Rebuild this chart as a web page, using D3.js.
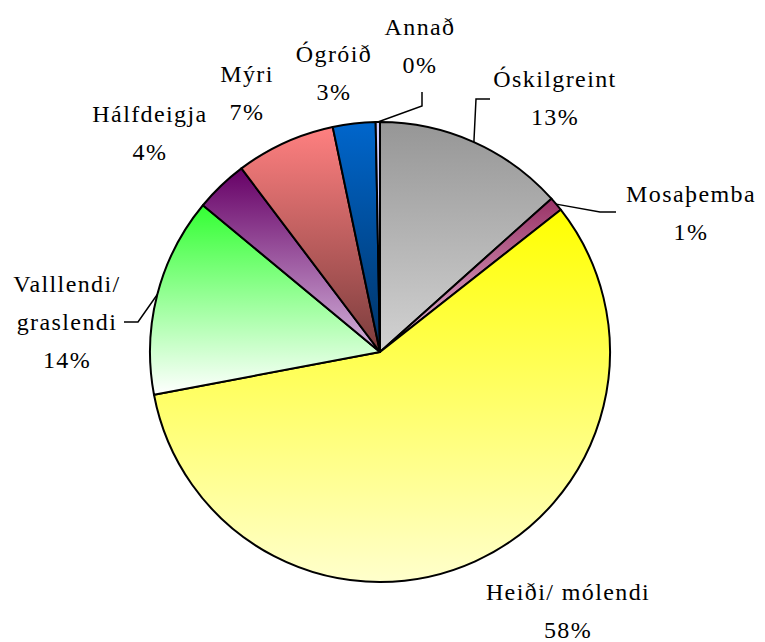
<!DOCTYPE html>
<html>
<head>
<meta charset="utf-8">
<script src="https://cdn.jsdelivr.net/npm/d3@7"></script>
<style>
  body { margin: 0; background: white; }
</style>
</head>
<body>
<div id="chart"></div>
<script>
// categories, clockwise from 12 o'clock
var categories = ['Óskilgreint', 'Mosaþemba', 'Heiði/ mólendi', 'Valllendi/ graslendi', 'Hálfdeigja', 'Mýri', 'Ógróið', 'Annað']
var values = [13.4, 1.0, 57.7, 14.0, 3.7, 7.0, 3.0, 0.3]
// label lines (name split as in the chart)
var labelLines = [['Óskilgreint'], ['Mosaþemba'], ['Heiði/ mólendi'], ['Valllendi/', 'graslendi'], ['Hálfdeigja'], ['Mýri'], ['Ógróið'], ['Annað']]
// gradient colours top -> bottom
var colorTop = ['#969696', '#993366', '#ffff00', '#33ff33', '#660066', '#ff8080', '#0066cc', '#ccccff']
var colorBottom = ['#d2d2d2', '#e8bcd8', '#ffffcc', '#ffffff', '#d4b4dc', '#7a3c3c', '#003366', '#ccccff']

var width = 765, height = 642
var cx = 380, cy = 352, r = 230
var fontSize = 24, lineGap = 38

// label anchors relative to the pie centre (middle of text, first baseline)
var labelAt = [[175, -265], [311, -150], [188, 248], [-313, -60], [-230, -230], [-133, -270], [-46, -290], [40, -317]]
// leader elbows (relative to centre), null = no leader
var leaders = [
	[[96, -253], [110, -253]],
	[[220, -140], [236, -140]],
	null,
	[[-242, -30], [-256, -30]],
	null, null, null,
	[[42, -246], [42, -260]]
]

var svg = d3.select('#chart').append('svg')
	.attr('width', width)
	.attr('height', height)

var defs = svg.append('defs')
categories.forEach(function(c, i) {
	var g = defs.append('linearGradient')
		.attr('id', 'grad' + i)
		.attr('x1', 0).attr('y1', 0).attr('x2', 0).attr('y2', 1)
	g.append('stop').attr('offset', '0%').attr('stop-color', colorTop[i])
	g.append('stop').attr('offset', '100%').attr('stop-color', colorBottom[i])
})

var pie = d3.pie().sort(null).value(function(d) { return d })
var arcs = pie(values)
var arc = d3.arc().innerRadius(0).outerRadius(r)

var chart = svg.append('g').attr('transform', 'translate(' + cx + ',' + cy + ')')

chart.selectAll('path.slice')
	.data(arcs)
	.enter()
	.append('path')
	.attr('class', 'slice')
	.attr('d', arc)
	.attr('fill', function(d, i) { return 'url(#grad' + i + ')' })
	.attr('stroke', 'black')
	.attr('stroke-width', 2)
	.attr('stroke-linejoin', 'round')

// leader lines from the outer edge at the mid angle
chart.selectAll('path.leader')
	.data(arcs.filter(function(d, i) { return leaders[i] }))
	.enter()
	.append('path')
	.attr('class', 'leader')
	.attr('d', function(d) {
		var i = d.index
		var a = (d.startAngle + d.endAngle) / 2
		var pts = [[r * Math.sin(a), -r * Math.cos(a)]].concat(leaders[i])
		return d3.line()(pts)
	})
	.attr('fill', 'none')
	.attr('stroke', 'black')
	.attr('stroke-width', 1.5)

var labels = chart.selectAll('text.label')
	.data(arcs)
	.enter()
	.append('text')
	.attr('class', 'label')
	.attr('x', function(d, i) { return labelAt[i][0] })
	.attr('y', function(d, i) { return labelAt[i][1] })
	.attr('text-anchor', 'middle')
	.attr('font-family', 'Liberation Serif')
	.attr('font-size', fontSize)
	.attr('fill', 'black')

labels.each(function(d, i) {
	var t = d3.select(this)
	var lines = labelLines[i].concat([Math.round(values[i]) + '%'])
	lines.forEach(function(l, j) {
		t.append('tspan')
			.attr('x', labelAt[i][0])
			.attr('dy', j === 0 ? 0 : lineGap)
			.attr('letter-spacing', 1.4)
			.text(l)
	})
})
</script>
</body>
</html>
